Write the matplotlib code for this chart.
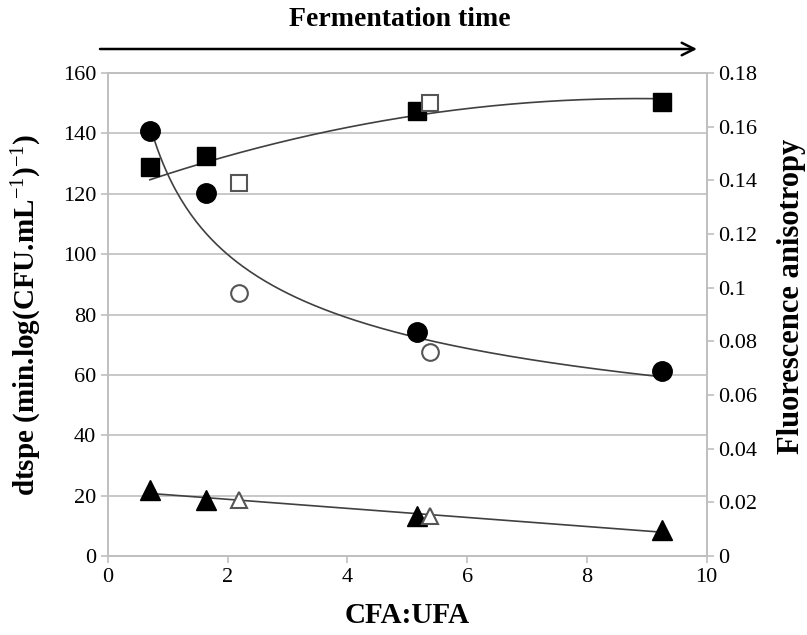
import numpy as np
import matplotlib
matplotlib.use("Agg")
import matplotlib.pyplot as plt

# --- dados ---
x_full = [0.70, 1.64, 5.16, 9.25]
circle_full = [140.7, 120.2, 74.2, 61.3]
square_full = [128.8, 132.5, 147.4, 150.3]
triangle_full = [21.9, 18.5, 13.2, 8.6]

x_open = [2.19, 5.38]
circle_open = [0.098, 0.076]     # anisotropia (eixo direito)
square_open = [0.139, 0.169]
triangle_open = [0.021, 0.015]

plt.rcParams['font.family'] = ['Liberation Serif', 'DejaVu Serif']
plt.rcParams['mathtext.fontset'] = 'custom'
plt.rcParams['mathtext.rm'] = 'Liberation Serif'
plt.rcParams['mathtext.it'] = 'Liberation Serif:italic'
plt.rcParams['mathtext.bf'] = 'Liberation Serif:bold'

GRID = '#bfbfbf'
LINE = '#404040'
SCALE = 160 / 0.18  # eixo direito -> esquerdo

fig = plt.figure(figsize=(8.07, 6.35), dpi=100)
ax = fig.add_axes([0.1338, 0.1244, 0.7417, 0.7606])
ax2 = ax.twinx()

ax.set_xlim(0, 10)
ax.set_ylim(0, 160)
ax2.set_ylim(0, 0.18)
ax.set_xticks(np.arange(0, 11, 2))
ax.set_yticks(np.arange(0, 161, 20))
ax2.set_yticks(np.arange(0, 0.181, 0.02))
ax2.set_yticklabels(['0'] + [f"{v:g}" for v in np.arange(0.02, 0.181, 0.02).round(2)])

ax.grid(axis='y', color=GRID, lw=1.2)
ax.set_axisbelow(True)
for a in (ax, ax2):
    for s in a.spines.values():
        s.set_color(GRID)
        s.set_linewidth(1.2)
    a.tick_params(colors=GRID, labelcolor='black', labelsize=16, length=5, width=1.2)

# linhas de tendência (ajuste sobre todos os pontos de cada série)
xs = np.linspace(min(x_full), max(x_full), 200)
x_all = np.concatenate([x_full, x_open])
y_circ = np.concatenate([circle_full, np.array(circle_open) * SCALE])
y_sq = np.concatenate([square_full, np.array(square_open) * SCALE])
y_tri = np.concatenate([triangle_full, np.array(triangle_open) * SCALE])

b, loga = np.polyfit(np.log(x_all), np.log(y_circ), 1)
ax.plot(xs, np.exp(loga) * xs ** b, color=LINE, lw=1.2, zorder=2)
ax.plot(xs, np.polyval(np.polyfit(x_all, y_sq, 2), xs), color=LINE, lw=1.2, zorder=2)
ax.plot(xs, np.polyval(np.polyfit(x_all, y_tri, 1), xs), color=LINE, lw=1.2, zorder=2)

# pontos
ax.plot(x_full, circle_full, 'o', color='black', ms=14, zorder=3)
ax.plot(x_full, square_full, 's', color='black', ms=13.5, zorder=3)
ax.plot(x_full, triangle_full, '^', color='black', ms=14.5, zorder=3)

open_kw = dict(ls='none', mfc='white', mec='#555555', mew=1.5, zorder=3)
ax2.plot(x_open, circle_open, 'o', ms=12, **open_kw)
ax2.plot(x_open, square_open, 's', ms=12, **open_kw)
ax2.plot(x_open, triangle_open, '^', ms=12, **open_kw)

ax.set_xlabel("CFA:UFA", fontsize=21, fontweight='bold')
ax.xaxis.set_label_coords(0.5, (635 - 616) / 483 - 0.1244 * 635 / 483)
ax.xaxis.label.set_va('center')
ax.set_ylabel("dtspe (min.log(CFU.mL$^{-1}$)$^{-1}$)", fontsize=21, fontweight='bold')
ax.yaxis.set_label_coords((44 - 108) / 598, 0.5)
ax2.set_ylabel("Fluorescence anisotropy", fontsize=22, fontweight='bold')
ax2.yaxis.set_label_coords((776 - 108) / 598, (556 - 296) / 483)

# seta do tempo de fermentação
fig.text(400 / 807, 1 - 19 / 635, "Fermentation time", ha='center', va='center',
         fontsize=20, fontweight='bold')
ax.annotate("", xy=(697 / 807, 1 - 49 / 635), xytext=(100 / 807, 1 - 49 / 635),
            xycoords='figure fraction', textcoords='figure fraction',
            arrowprops=dict(arrowstyle='->,head_length=0.9,head_width=0.45',
                            color='black', lw=1.8, shrinkA=0, shrinkB=0))

fig.savefig("out.png", dpi=100)
